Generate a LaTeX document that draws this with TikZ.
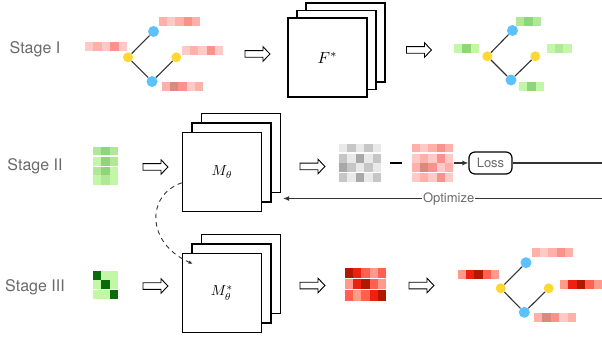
\documentclass[tikz,border=0pt]{standalone}
\usepackage{graphicx}
\usepackage{fontspec}
\setsansfont{TeX Gyre Heros}
\usetikzlibrary{arrows.meta}
\definecolor{rA}{HTML}{FFCAC6}
\definecolor{rB}{HTML}{FFB0A8}
\definecolor{rC}{HTML}{F8928A}
\definecolor{rD}{HTML}{D98A80}
\definecolor{dA}{HTML}{FF9A8C}
\definecolor{dB}{HTML}{FF6050}
\definecolor{dC}{HTML}{EE2010}
\definecolor{dD}{HTML}{B01800}
\definecolor{gA}{HTML}{C2F7A8}
\definecolor{gB}{HTML}{B0E898}
\definecolor{gC}{HTML}{8ED67A}
\definecolor{gD}{HTML}{0B6B0B}
\definecolor{kA}{HTML}{E9E9E9}
\definecolor{kB}{HTML}{C6C6C6}
\definecolor{kC}{HTML}{A8A8A8}
\definecolor{nodeblue}{HTML}{5BC2FD}
\definecolor{nodeyellow}{HTML}{FDD835}
\definecolor{lblgray}{HTML}{6A6A6A}
\definecolor{lngray}{HTML}{333333}
\newcommand{\cellrow}[5]{%
  \foreach \cc [count=\ii from 0] in {#5} {\fill[\cc] ({#1+\ii*#3},#2) rectangle ++(#3,#4);}}
\begin{document}
\begin{tikzpicture}[x=1pt,y=-1pt,
  stagelbl/.style={font=\sffamily\fontsize{16}{18}\selectfont, text=lblgray, anchor=base, inner sep=0},
  sheet/.style={draw=black, line width=1.3pt, fill=white, minimum size=79pt, inner sep=0},
  bnode/.style={circle, fill=nodeblue, minimum size=11pt, inner sep=0},
  ynode/.style={circle, fill=nodeyellow, minimum size=10pt, inner sep=0},
  edge/.style={draw=lngray, line width=1.1pt},
  conn/.style={draw=lngray, line width=1.2pt},
  harrow/.pic={\draw[line width=0.9pt, fill=white, line join=miter] (-12.5,3.3) -- (5.5,3.3) -- (5.5,7.2) -- (12.5,0) -- (5.5,-7.2) -- (5.5,-3.3) -- (-12.5,-3.3) -- cycle;},
  sepline/.style={draw=white, line width=1.2pt}
]
\useasboundingbox (0,0) rectangle (602,339);

% Stage labels
\node[stagelbl] (s1) at (35,53.3) {Stage I};
\node[stagelbl] (s2) at (35,171) {Stage II};
\node[stagelbl] (s3) at (35,291) {Stage III};

% ---------- Stage I ----------
\cellrow{159}{17.3}{8.2}{8.7}{rB,rA,rB,rC,rB}
\cellrow{85}{42}{8.4}{8.7}{rA,rB,rA,rC,rA}
\cellrow{182}{46}{8.2}{8.7}{rA,rB,rA,rC,rA}
\cellrow{162}{82}{8.2}{8.7}{rB,rD,rC,rA,rB}
\node[ynode] (t1l) at (128,57.3) {};
\node[bnode] (t1t) at (153.5,31.5) {};
\node[bnode] (t1b) at (152,81.5) {};
\node[ynode] (t1r) at (176.3,57.3) {};
\draw[edge] (t1l) -- (t1t);
\draw[edge] (t1l) -- (t1b);
\draw[edge] (t1b) -- (t1r);

\pic at (257.5,54) {harrow};

% F* stack
\node[sheet] (fb) at (345.5,42.5) {};
\node[sheet] (fm) at (336.5,50) {};
\node[sheet] (ff) at (327.5,57.5) {\scalebox{1.6}{$F^{*}$}};

\pic at (419,50) {harrow};

% tree 2
\cellrow{516}{17}{8.33}{9}{gB,gC,gB}
\cellrow{454}{44}{8.33}{9}{gA,gC,gA}
\cellrow{546.7}{44}{8.33}{9}{gA,gB,gA}
\cellrow{519}{82}{8.33}{9}{gA,gC,gA}
\node[ynode] (t2l) at (487.3,56.3) {};
\node[bnode] (t2t) at (512.5,30.5) {};
\node[bnode] (t2b) at (511,80) {};
\node[ynode] (t2r) at (535.3,56.3) {};
\draw[edge] (t2l) -- (t2t);
\draw[edge] (t2l) -- (t2b);
\draw[edge] (t2b) -- (t2r);

% ---------- Stage II ----------
\cellrow{93}{147}{8.33}{9.5}{gB,gC,gB}
\cellrow{93}{156.5}{8.33}{9.5}{gA,gC,gB}
\cellrow{93}{166}{8.33}{9.5}{gB,gC,gA}
\cellrow{93}{175.5}{8.33}{9.5}{gA,gB,gA}
\draw[sepline] (93,156) -- (118,156);
\draw[sepline] (93,166.7) -- (118,166.7);

\pic at (155.5,167) {harrow};

\node[sheet] (mb) at (241,153) {};
\node[sheet] (mm) at (231.5,162.5) {};
\node[sheet] (mf) at (222,172) {\scalebox{1.45}{$M_{\theta}$}};

\pic at (312.5,166.5) {harrow};

% gray matrix
\cellrow{339}{144}{8.4}{9.5}{kA,kB,kA,kB,kA}
\cellrow{339}{153.5}{8.4}{9.5}{kB,kA,kC,kA,kB}
\cellrow{339}{163}{8.4}{9.5}{kC,kB,kA,kB,kA}
\cellrow{339}{172.5}{8.4}{9.5}{kB,kA,kC,kA,kB}
\draw[sepline] (339,153) -- (381,153);
\draw[sepline] (339,172.3) -- (381,172.3);

\draw[line width=2.3pt] (390,162.7) -- (402,162.7);

% red matrix
\cellrow{412}{144}{8.2}{9.5}{rB,rA,rB,rC,rB}
\cellrow{412}{153.5}{8.2}{9.5}{rA,rB,rA,rC,rA}
\cellrow{412}{163}{8.2}{9.5}{rB,rD,rC,rA,rB}
\cellrow{412}{172.5}{8.2}{9.5}{rA,rB,rA,rC,rA}
\draw[sepline] (412,153) -- (453,153);
\draw[sepline] (412,172.3) -- (453,172.3);
\coordinate (redout) at (454,163);

\node[draw=black, line width=1.2pt, rounded corners=6pt, minimum width=43pt, minimum height=22pt, inner sep=0,
      font=\sffamily\fontsize{13}{15}\selectfont, text=lblgray] (loss) at (490.5,163) {Loss};
\draw[conn, -{Latex[length=6pt,width=5pt]}] (redout) -- (loss.west);
\coordinate (lossR) at (602,163);
\draw[conn] (loss.east) -- (lossR);

\coordinate (optR) at (602,198.5);
\coordinate (optL) at (283,198.5);
\draw[conn, -{Latex[length=6pt,width=5pt]}] (optR) -- (optL);
\node[fill=white, inner sep=1pt, anchor=base, font=\sffamily\fontsize{13}{15}\selectfont, text=lblgray] (opt) at (448.7,203) {Optimize};

% ---------- Stage III ----------
\cellrow{92.7}{270.7}{8.53}{9.45}{gD,gA,gA}
\cellrow{92.7}{280.15}{8.53}{9.45}{gA,gD,gA}
\cellrow{92.7}{289.6}{8.53}{9.45}{gA,gA,gD}
\draw[sepline] (92.7,289.6) -- (118.3,289.6);

\pic at (155.5,286) {harrow};

\node[sheet] (sb) at (241,274) {};
\node[sheet] (sm) at (231.5,283.5) {};
\node[sheet] (sf) at (222,293) {\scalebox{1.45}{$M_{\theta}^{*}$}};

% dashed arrow from M_theta to M*_theta
\coordinate (dend) at (193,264);
\draw[lngray, line width=0.9pt, dash pattern=on 4.5pt off 4pt, -{Latex[length=4.5pt,width=3.5pt]}]
  (mf.195) .. controls (146,195) and (146,243) .. (dend);

\pic at (312.5,285.5) {harrow};

% red matrix stage III
\cellrow{345}{268.3}{8.2}{10.8}{dD,dC,dB,dA,dB}
\cellrow{345}{279.1}{8.2}{10.8}{dA,dC,dD,dB,dA}
\cellrow{345}{289.9}{8.2}{10.8}{dB,dA,dB,dC,dD}
\draw[sepline] (345,278.6) -- (386,278.6);
\draw[sepline] (345,289.3) -- (386,289.3);

\pic at (421.5,285.5) {harrow};

% tree 3
\cellrow{532}{248}{8.2}{9}{rB,rA,rB,rC,rB}
\cellrow{458}{270}{8.2}{9}{dA,dC,dD,dB,dA}
\cellrow{560}{280}{8.4}{9}{dA,dC,dD,dB,dA}
\cellrow{534}{313}{8.4}{9}{rB,rD,rC,rA,rB}
\node[ynode] (t3l) at (500.7,288.3) {};
\node[bnode] (t3t) at (526,262.7) {};
\node[bnode] (t3b) at (524.3,312.3) {};
\node[ynode] (t3r) at (548.7,288.3) {};
\draw[edge] (t3l) -- (t3t);
\draw[edge] (t3l) -- (t3b);
\draw[edge] (t3b) -- (t3r);
\end{tikzpicture}
\end{document}
